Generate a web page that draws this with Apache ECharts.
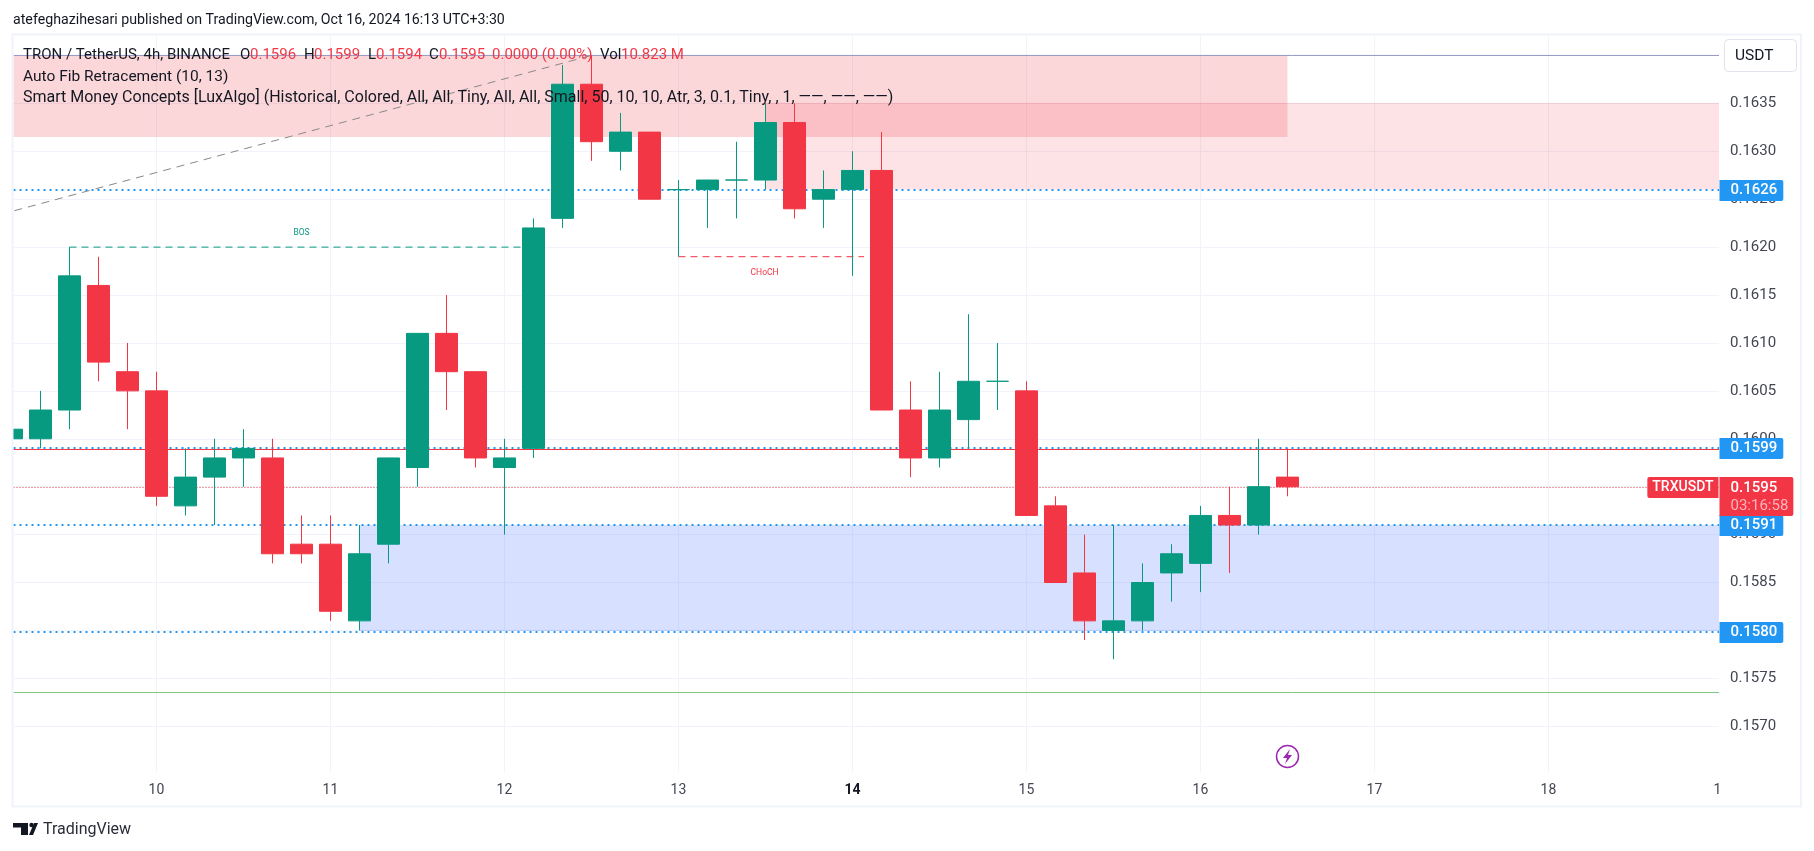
<!DOCTYPE html>
<html><head><meta charset="utf-8">
<style>html,body{margin:0;padding:0;background:#fff}#c{width:1814px;height:851px}</style>
<script src="https://cdn.jsdelivr.net/npm/echarts@6/dist/echarts.min.js"></script>
</head><body><div id="c"></div>
<script>
// bar index: 0 = first 4h bar of day 10
const barIndex = [-5,-4,-3,-2,-1,0,1,2,3,4,5,6,7,8,9,10,11,12,13,14,15,16,17,18,19,20,21,22,23,24,25,26,27,28,29,30,31,32,33,34,35,36,37,38,39];
const opens  = [.1600,.1600,.1603,.1616,.1607,.1605,.1593,.1596,.1598,.1598,.1589,.1589,.1581,.1589,.1597,.1611,.1607,.1597,.1599,.1623,.1637,.1630,.1632,.1626,.1626,.1627,.1627,.1633,.1625,.1626,.1628,.1603,.1598,.1602,.1606,.1605,.1593,.1586,.1580,.1581,.1586,.1587,.1592,.1591,.1596];
const closes = [.1601,.1603,.1617,.1608,.1605,.1594,.1596,.1598,.1599,.1588,.1588,.1582,.1588,.1598,.1611,.1607,.1598,.1598,.1622,.1637,.1631,.1632,.1625,.1626,.1627,.1627,.1633,.1624,.1626,.1628,.1603,.1598,.1603,.1606,.1606,.1592,.1585,.1581,.1581,.1585,.1588,.1592,.1591,.1595,.1595];
const lows   = [.1600,.1599,.1601,.1606,.1601,.1593,.1592,.1591,.1595,.1587,.1587,.1581,.1580,.1587,.1595,.1603,.1597,.1590,.1598,.1622,.1629,.1628,.1625,.1619,.1622,.1623,.1626,.1623,.1622,.1617,.1603,.1596,.1597,.1599,.1603,.1592,.1585,.1579,.1577,.1580,.1583,.1584,.1586,.1590,.1594];
const highs  = [.1601,.1605,.1620,.1619,.1610,.1607,.1599,.1600,.1601,.1600,.1592,.1592,.1591,.1598,.1611,.1615,.1607,.1600,.1623,.1639,.1640,.1634,.1632,.1627,.1627,.1631,.1635,.1635,.1628,.1630,.1632,.1606,.1607,.1613,.1610,.1606,.1594,.1590,.1591,.1587,.1589,.1593,.1595,.1600,.1599];

const priceTicks = [.1570,.1575,.1580,.1585,.1590,.1595,.1600,.1605,.1610,.1615,.1620,.1625,.1630,.1635];
const dayTicks = [0,6,12,18,24,30,36,42,48];
const dayLabels = ['10','11','12','13','14','15','16','17','18'];
const lastLabelPos = 53.83, lastLabel = '1';

const blueLevels = [.162596,.159904,.1591,.157984];
const blueLabels = ['0.1626','0.1599','0.1591','0.1580'];
const redSolidLevel = .159888, greenLevel = .157352, lastPrice = .159492, fibTop = .1640;
const fibDiag = [[-4.9,.16238],[15,.1640]];
const bos = [[-3,.1620],[13,.1620]], bosLabel = [5,.16215];
const choch = [[18,.1619],[24.4,.1619]], chochLabel = [20.97,.16173];
const redZone1 = [-5,.1640,39,.16315];
const redZone2 = [21,.1635,.1626];
const blueZone = [7,.1591,.1580];

const FONT = 'Roboto, "Noto Sans", sans-serif';
const UP = '#089981', DOWN = '#f23645', INK = '#131722';
const xMin = -4.93, xMax = 53.88;
const candleData = barIndex.map((x,i)=>[x,opens[i],closes[i],lows[i],highs[i]]);

const hline = (y,color,type,width,name)=>({type:'line',name,silent:true,symbol:'none',z:2,
  data:[[xMin,y],[xMax,y]],lineStyle:{color,type,width},animation:false});
const seg = (pts,color,type,z)=>({type:'line',silent:true,symbol:'none',z:z||4,data:pts,
  lineStyle:{color,type,width:1},animation:false});
const zone = (x0,y0,x1,y1,color)=>({type:'line',silent:true,symbol:'none',z:1,data:[],animation:false,
  markArea:{silent:true,itemStyle:{color},data:[[{coord:[x0,y0]},{coord:[x1,y1]}]]}});
const textMark = (pos,name,color)=>({type:'scatter',silent:true,symbolSize:1,z:4,animation:false,
  itemStyle:{color:'transparent',opacity:1},data:[{value:pos,name}],
  label:{show:true,position:'inside',formatter:name,color,opacity:1,fontSize:8.5,fontFamily:FONT}});
const tagBase = {fontFamily:FONT,fontSize:15,fontWeight:500,color:'#fff'};
const txt = (left,top,text,fill,size)=>({type:'text',z:60,left,top,silent:true,style:{text,fill,font:size+'px '+FONT}});

const option = {
  animation:false, backgroundColor:'#fff',
  grid:{left:13.5,right:95,top:36,height:735.7,containLabel:false},
  xAxis:{type:'value',min:xMin,max:xMax,
    axisLine:{show:false},
    axisTick:{show:false,customValues:dayTicks},
    splitLine:{show:true,lineStyle:{color:'#f0f3fa',width:1}},
    axisLabel:{customValues:dayTicks.concat([lastLabelPos]),margin:12,color:'#434651',fontSize:14,fontFamily:FONT,
      formatter:v=>{ if(v===lastLabelPos) return lastLabel;
        const s=dayLabels[dayTicks.indexOf(v)]; return s==='14'?'{b|14}':s; },
      rich:{b:{fontWeight:'bold',fontSize:14,color:INK,fontFamily:FONT}}}},
  yAxis:{type:'value',position:'right',min:.156526,max:.164203,scale:true,
    axisLine:{show:false},
    axisTick:{show:false,customValues:priceTicks},
    splitLine:{show:true,lineStyle:{color:'#f0f3fa',width:1}},
    axisLabel:{customValues:priceTicks,margin:11,color:'#434651',fontSize:15,fontFamily:FONT,padding:[4,0,0,0],
      formatter:v=>v.toFixed(4)}},
  series:[
    zone(redZone1[0]-0.5,redZone1[1],redZone1[2],redZone1[3],'rgba(242,54,69,0.2)'),
    zone(redZone2[0],redZone2[1],xMax,redZone2[2],'rgba(242,54,69,0.14)'),
    zone(blueZone[0],blueZone[1],xMax,blueZone[2],'rgba(41,98,255,0.19)'),
    seg([[blueZone[0],blueZone[2]],[xMax,blueZone[2]]],'rgba(41,98,255,0.2)','solid',1),
    seg([[redZone2[0],redZone2[1]],[xMax,redZone2[1]]],'rgba(242,54,69,0.12)','solid',1),
    hline(fibTop,'#9598c4','solid',1,'fibTop'),
    hline(greenLevel,'#81c784','solid',1,'green'),
    hline(redSolidLevel,DOWN,'solid',1,'res'),
    seg(fibDiag,'#888',[8,6]),
    seg(bos,UP,[7,5]),
    seg(choch,DOWN,[7,5]),
    textMark(bosLabel,'BOS',UP),
    textMark(chochLabel,'CHoCH',DOWN),
    hline(lastPrice,DOWN,[1,2],1,'last'),
    ...blueLevels.map((y,i)=>({...hline(y,'#2196f3',[2,4],2,'lvl'+i),z:3})),
    {type:'candlestick',z:5,barWidth:23,animation:false,silent:true,
      encode:{x:0,y:[1,2,3,4]},data:candleData,
      itemStyle:{color:UP,color0:DOWN,borderColor:UP,borderColor0:DOWN,borderWidth:1}},
    // price tags
    {type:'scatter',silent:true,symbolSize:1,z:20,animation:false,clip:false,itemStyle:{color:'transparent',opacity:1},
      data:blueLevels.map((y,i)=>({value:[xMax,y],name:blueLabels[i]})),
      label:{show:true,position:'right',distance:0,opacity:1,formatter:'{b}',...tagBase,backgroundColor:'#2196f3',lineHeight:15,
        padding:[4,6,2,11],borderRadius:[0,2,2,0],offset:[0,0.5]}},
    {type:'scatter',silent:true,symbolSize:1,z:21,animation:false,clip:false,itemStyle:{color:'transparent',opacity:1},
      data:[{value:[xMax,lastPrice],name:'0.1595'}],
      label:{show:true,position:'right',distance:0,opacity:1,verticalAlign:'top',offset:[0,-10.5],
        formatter:'{a|0.1595}\n{d|03:16:58}',backgroundColor:DOWN,padding:[2,5,1,11],borderRadius:[0,2,2,0],
        rich:{a:{...tagBase,lineHeight:18},d:{fontFamily:FONT,fontSize:15,color:'#fbb4ba',lineHeight:18}}}},
    {type:'scatter',silent:true,symbolSize:1,z:21,animation:false,clip:false,itemStyle:{color:'transparent',opacity:1},
      data:[{value:[xMax,lastPrice],name:'TRXUSDT'}],
      label:{show:true,position:'left',distance:0,opacity:1,formatter:'{b}',...tagBase,fontSize:14,backgroundColor:DOWN,lineHeight:15,
        padding:[4,5,2,5],borderRadius:[2,0,0,2]}}
  ],
  graphic:[
    {type:'rect',z:40,silent:true,shape:{x:0,y:36,width:13,height:736},style:{fill:'#fff'}},
    {type:'rect',z:50,silent:true,shape:{x:12.5,y:34.5,width:1788.5,height:772},style:{fill:'none',stroke:'#f0f3fa',lineWidth:2}},
    txt(13,13,'atefeghazihesari published on TradingView.com, Oct 16, 2024 16:13 UTC+3:30',INK,14.2),
    txt(23,48,'TRON / TetherUS, 4h, BINANCE',INK,15),
    txt(240,48,'O',INK,15), txt(250,48,'0.1596',DOWN,15),
    txt(304,48,'H',INK,15), txt(314,48,'0.1599',DOWN,15),
    txt(368,48,'L',INK,15), txt(376,48,'0.1594',DOWN,15),
    txt(429,48,'C',INK,15), txt(439,48,'0.1595',DOWN,15),
    txt(492,48,'0.0000 (0.00%)',DOWN,15),
    txt(600,48,'Vol',INK,15), txt(621,48,'10.823 M',DOWN,15),
    txt(23,69,'Auto Fib Retracement (10, 13)',INK,15.5),
    txt(23,90,'Smart Money Concepts [LuxAlgo] (Historical, Colored, All, All, Tiny, All, All, Small, 50, 10, 10, Atr, 3, 0.1, Tiny, , 1, ——, ——, ——)',INK,16),
    {type:'rect',z:60,silent:true,shape:{x:1724.5,y:39.5,width:72,height:32,r:4},style:{fill:'#fff',stroke:'#e0e3eb',lineWidth:1}},
    txt(1735,48,'USDT',INK,15.5),
    {type:'circle',z:60,silent:true,shape:{cx:1287.5,cy:756.5,r:11},style:{fill:'#fff',stroke:'#9c27b0',lineWidth:1.5}},
    {type:'polygon',z:61,silent:true,shape:{points:[[1290,749],[1283,758],[1287,758],[1285,764],[1292,755],[1288,755]]},style:{fill:'#9c27b0'}},
    txt(43,822,'TradingView','#2a2e39',16),
    {type:'polygon',z:60,silent:true,shape:{points:[[13,823],[28,823],[28,835],[21,835],[21,827.5],[13,827.5]]},style:{fill:INK}},
    {type:'polygon',z:60,silent:true,shape:{points:[[34,823],[38,823],[33,835],[29,835]]},style:{fill:INK}},
    {type:'circle',z:60,silent:true,shape:{cx:31.5,cy:825,r:2.2},style:{fill:INK}}
  ]
};
const chart = echarts.init(document.getElementById('c'),null,{renderer:'canvas'});
chart.setOption(option);
</script></body></html>
